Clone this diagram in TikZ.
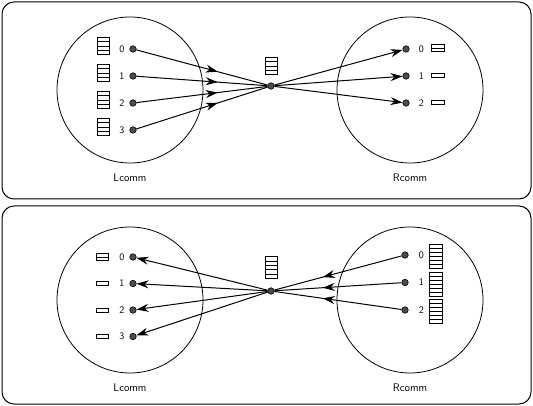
\documentclass[tikz,border=0pt]{standalone}
\usetikzlibrary{arrows.meta, positioning, decorations.markings}
\tikzset{
  panel/.style={draw, rounded corners=12pt, line width=1pt},
  comm/.style={circle, draw, minimum size=146pt, inner sep=0pt, line width=0.8pt},
  proc/.style={circle, draw, fill=black!70, minimum size=6.5pt, inner sep=0pt, line width=0.6pt},
  rank/.style={font=\fontsize{10}{12}\sffamily, inner sep=1pt},
  commlabel/.style={font=\fontsize{11}{13}\sffamily},
  tiparrow/.style={-{Stealth[length=12pt,width=8pt]}, line width=1pt},
  midarrow/.style={line width=1pt, postaction=decorate,
    decoration={markings, mark=at position 0.62 with {\arrow{Stealth[length=12pt,width=8pt]}}}},
}
% [cell height] x, y (centre), number of cells, width
\newcommand{\cellstack}[5][4.4]{%
  \foreach \k in {1,...,#4}
    \draw[line width=0.6pt] ({#2-#5/2},{#3+(\k-1-#4/2)*#1}) rectangle ++(#5,#1);
}

\begin{document}
\begin{tikzpicture}[x=1pt, y=-1pt]
  \useasboundingbox (0,0) rectangle (533,406);
  % upper panel: left group to right group
  \draw[panel] (2,2) rectangle (531,199);
  \node[comm] (lc1) at (130,90) {};
  \node[comm] (rc1) at (410,90) {};
  \node[commlabel] (lname1) at (130,178) {Lcomm};
  \node[commlabel] (rname1) at (410,178) {Rcomm};
  \node[proc] (hub1) at (271,86) {};
  \cellstack{271.5}{66}{4}{12.5}
  \foreach \i in {0,...,3} {
    \node[proc] (a\i) at (133,{49+27*\i}) {};
    \node[rank, left=4pt of a\i] (la\i) {\i};
    \cellstack{103}{46+27*\i}{4}{12}
    \draw[midarrow] (a\i) -- (hub1);
  }
  \foreach \i/\n in {0/2,1/1,2/1} {
    \node[proc] (b\i) at (406,{49+27*\i}) {};
    \node[rank, right=8pt of b\i] (lb\i) {\i};
    \cellstack[3.8]{438}{48+27*\i}{\n}{12.5}
    \draw[tiparrow] (hub1) -- (b\i);
  }
  % lower panel: right group to left group
  \draw[panel] (2,206) rectangle (531,404);
  \node[comm] (lc2) at (130,300) {};
  \node[comm] (rc2) at (410,300) {};
  \node[commlabel] (lname2) at (130,388) {Lcomm};
  \node[commlabel] (rname2) at (410,388) {Rcomm};
  \node[proc] (hub2) at (271,291) {};
  \cellstack{271.5}{267.5}{5}{12.5}
  \foreach \i/\n in {0/2,1/1,2/1,3/1} {
    \node[proc] (c\i) at (133,{257+26.5*\i}) {};
    \node[rank, left=4pt of c\i] (lc\i) {\i};
    \cellstack[3.8]{102}{257+26.5*\i}{\n}{12}
    \draw[tiparrow] (hub2) -- (c\i);
  }
  \foreach \i in {0,1,2} {
    \node[proc] (d\i) at (405,{255+27.5*\i}) {};
    \node[rank, right=9pt of d\i] (ld\i) {\i};
    \cellstack[4]{435.5}{256.5+27.5*\i}{6}{13}
    \draw[midarrow] (d\i) -- (hub2);
  }
\end{tikzpicture}
\end{document}
